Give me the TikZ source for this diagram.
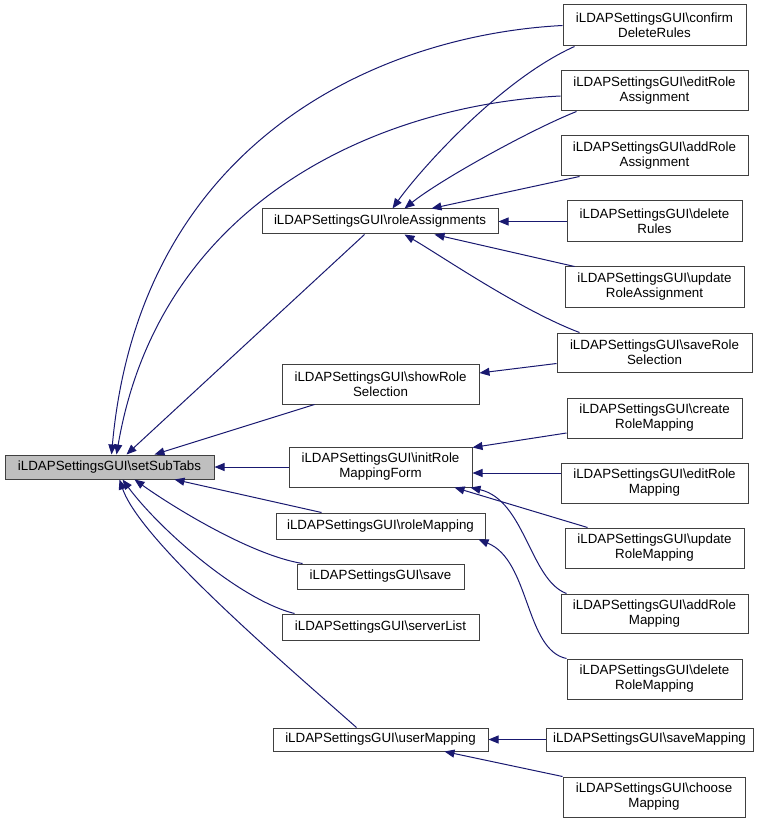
\documentclass[tikz,border=0pt]{standalone}
\usepackage{fontspec}
\setmainfont{Liberation Sans}
\usetikzlibrary{arrows.meta,calc}
\definecolor{edgec}{HTML}{191970}
\definecolor{boxc}{HTML}{404040}
\definecolor{fillg}{HTML}{BFBFBF}
\tikzset{
  box/.style={draw=boxc, line width=0.75pt, fill=white, inner sep=0pt, align=center,
    font=\fontsize{10}{11.25}\selectfont},
  sz/.style 2 args={minimum width=#1*0.75pt, minimum height=#2*0.75pt},
  edge/.style={draw=edgec, line width=0.75pt, -{Triangle[length=7.5pt,width=6pt]}}
}
\begin{document}
\begin{tikzpicture}[x=0.75pt,y=-0.75pt]
\useasboundingbox (0,0) rectangle (768,823);
% nodes
\node[box,sz={209}{24},fill=fillg] (sst) at (109.5,467) {iLDAPSettingsGUI\textbackslash setSubTabs};
\node[box,sz={236}{25}] (ra) at (380,221.5) {iLDAPSettingsGUI\textbackslash roleAssignments};
\node[box,sz={197}{40}] (srs) at (380.5,384) {iLDAPSettingsGUI\textbackslash showRole\\Selection};
\node[box,sz={183}{40}] (irmf) at (380.5,467) {iLDAPSettingsGUI\textbackslash initRole\\MappingForm};
\node[box,sz={209}{26}] (rm) at (380.5,526) {iLDAPSettingsGUI\textbackslash roleMapping};
\node[box,sz={167}{25}] (save) at (380.5,576.5) {iLDAPSettingsGUI\textbackslash save};
\node[box,sz={197}{26}] (sl) at (380.5,627) {iLDAPSettingsGUI\textbackslash serverList};
\node[box,sz={215}{23}] (um) at (380.5,739.5) {iLDAPSettingsGUI\textbackslash userMapping};
\node[box,sz={183}{41}] (cdr) at (654.5,25.5) {iLDAPSettingsGUI\textbackslash confirm\\DeleteRules};
\node[box,sz={187}{40}] (era) at (654.5,91) {iLDAPSettingsGUI\textbackslash editRole\\Assignment};
\node[box,sz={187}{40}] (ara) at (654.5,156) {iLDAPSettingsGUI\textbackslash addRole\\Assignment};
\node[box,sz={175}{41}] (dr) at (654.5,221.5) {iLDAPSettingsGUI\textbackslash delete\\Rules};
\node[box,sz={179}{40}] (ura) at (654.5,287) {iLDAPSettingsGUI\textbackslash update\\RoleAssignment};
\node[box,sz={195}{39}] (srsel) at (654.5,352.5) {iLDAPSettingsGUI\textbackslash saveRole\\Selection};
\node[box,sz={175}{40}] (crm) at (654.5,418) {iLDAPSettingsGUI\textbackslash create\\RoleMapping};
\node[box,sz={187}{40}] (erm) at (654.5,483) {iLDAPSettingsGUI\textbackslash editRole\\Mapping};
\node[box,sz={179}{40}] (urm) at (654.5,548) {iLDAPSettingsGUI\textbackslash update\\RoleMapping};
\node[box,sz={187}{39}] (arm) at (654.5,613.5) {iLDAPSettingsGUI\textbackslash addRole\\Mapping};
\node[box,sz={175}{40}] (drm) at (654.5,679) {iLDAPSettingsGUI\textbackslash delete\\RoleMapping};
\node[box,sz={207}{23}] (sm) at (649.5,739.5) {iLDAPSettingsGUI\textbackslash saveMapping};
\node[box,sz={182}{40}] (cm) at (654,797) {iLDAPSettingsGUI\textbackslash choose\\Mapping};
% edges into setSubTabs
\draw[edge] (cdr.west) .. controls (380,35) and (140,140) .. ($(sst.north west)+(107,0)$);
\draw[edge] ($(era.west)+(0,5)$) .. controls (380,105) and (160,200) .. ($(sst.north west)+(112,0)$);
\draw[edge] ($(ra.south west)+(103,0)$) -- ($(sst.north west)+(122,0)$);
\draw[edge] ($(srs.south west)+(33,0)$) -- ($(sst.north west)+(150,0)$);
\draw[edge] (irmf.west) -- (sst.east);
\draw[edge] ($(rm.north west)+(46,0)$) -- ($(sst.south west)+(170,0)$);
\draw[edge] ($(save.north west)+(6,0)$) .. controls (250,555) and (170,505) .. ($(sst.south west)+(130,0)$);
\draw[edge] ($(sl.north west)+(13,0)$) .. controls (240,600) and (160,530) .. ($(sst.south west)+(118,0)$);
\draw[edge] ($(um.north west)+(84,0)$) .. controls (280,660) and (140,540) .. ($(sst.south west)+(115,0)$);
% edges into roleAssignments
\draw[edge] ($(cdr.south west)+(12,0)$) .. controls (500,80) and (420,170) .. ($(ra.north west)+(131,0)$);
\draw[edge] ($(era.south west)+(16,0)$) .. controls (530,130) and (440,180) .. ($(ra.north west)+(143,0)$);
\draw[edge] ($(ara.south west)+(19,0)$) -- ($(ra.north west)+(170,0)$);
\draw[edge] (dr.west) -- (ra.east);
\draw[edge] ($(ura.north west)+(10,0)$) -- ($(ra.south west)+(173,0)$);
\draw[edge] ($(srsel.north west)+(23,0)$) .. controls (520,310) and (440,255) .. ($(ra.south west)+(143,0)$);
% showRoleSelection
\draw[edge] ($(srsel.west)+(0,11)$) -- ($(srs.east)+(0,-11)$);
% initRoleMappingForm
\draw[edge] ($(crm.west)+(0,15)$) -- ($(irmf.north east)+(0,1)$);
\draw[edge] ($(erm.west)+(0,-10)$) -- ($(irmf.east)+(0,6)$);
\draw[edge] ($(urm.north west)+(23,0)$) -- ($(irmf.south east)+(-18,0)$);
\draw[edge] ($(arm.north west)+(6,0)$) .. controls (530,580) and (525,500) .. ($(irmf.south east)+(-2,0)$);
% roleMapping
\draw[edge] (drm.north west) .. controls (525,650) and (530,560) .. ($(rm.south east)+(-7,0)$);
% userMapping
\draw[edge] (sm.west) -- (um.east);
\draw[edge] (cm.north west) -- ($(um.south west)+(172,0)$);
\end{tikzpicture}
\end{document}
